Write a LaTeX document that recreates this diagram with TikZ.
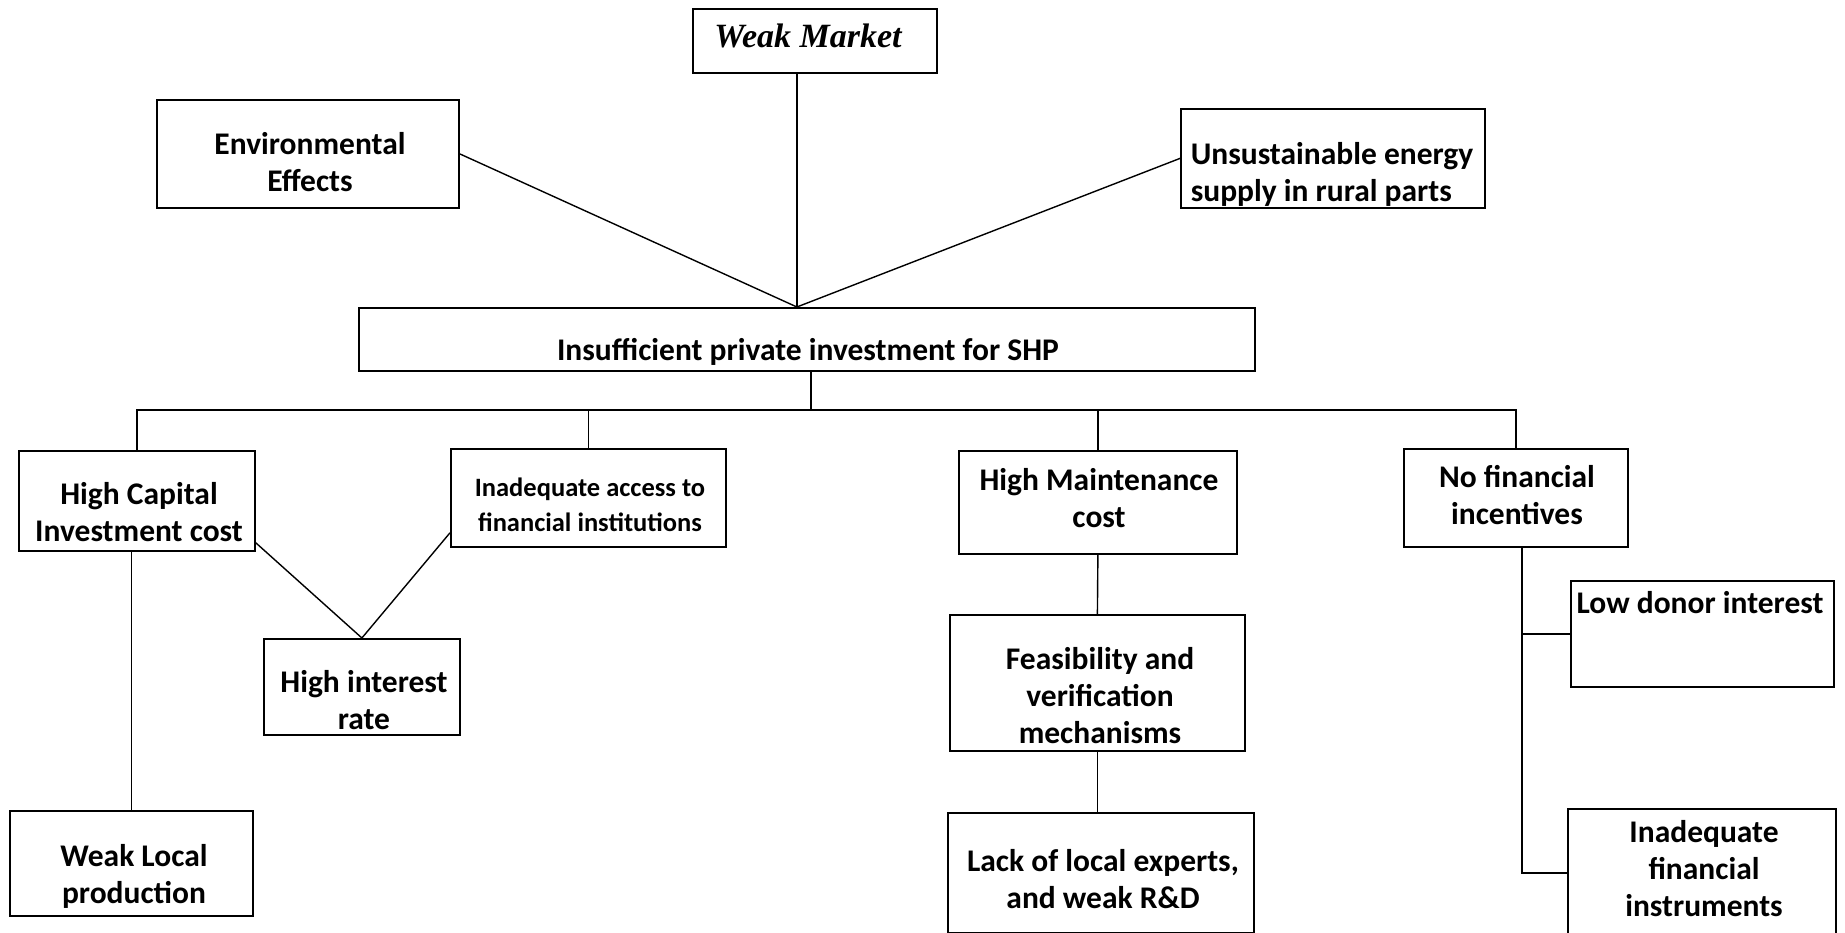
\documentclass[tikz,border=0pt]{standalone}
\usepackage{fontspec}
\setmainfont{Carlito}
\newfontfamily\headserif{Liberation Serif}
\begin{document}
\begin{tikzpicture}[x=1pt,y=-1pt,
  bx/.style 2 args={draw, line width=1.8pt, inner sep=0pt, anchor=north west,
    minimum width=#1pt, minimum height=#2pt},
  tx/.style={font=\bfseries\fontsize{31.5}{37}\selectfont, align=center, inner sep=0pt},
  txs/.style={font=\bfseries\fontsize{26.5}{35}\selectfont, align=center, inner sep=0pt},
  ln/.style={line width=1.4pt}]
\useasboundingbox (0,0) rectangle (1845,933);

% boxes
\node[bx={244}{64}]  (wm)  at (692,8)    {};
\node[bx={302}{108}] (env) at (156,99)   {};
\node[bx={304}{99}]  (un)  at (1180,108) {};
\node[bx={896}{63}]  (ins) at (358,307)  {};
\node[bx={236}{100}] (hc)  at (18,450)   {};
\node[bx={275}{98}]  (ia)  at (450,448)  {};
\node[bx={196}{96}]  (hi)  at (263,638)  {};
\node[bx={243}{105}] (wl)  at (9,810)    {};
\node[bx={278}{103}] (hm)  at (958,450)  {};
\node[bx={295}{136}] (fe)  at (949,614)  {};
\node[bx={306}{120}] (lk)  at (947,812)  {};
\node[bx={224}{98}]  (nf)  at (1403,448) {};
\node[bx={263}{106}] (ld)  at (1570,580) {};
\node[bx={268}{128}] (iff) at (1567,808) {};

% labels
\node[inner sep=0pt, anchor=base, font=\headserif\bfseries\itshape\fontsize{34}{40}\selectfont] (wm-t) at (808,48) {Weak Market};
\node[tx] (env-t) at (310,162) {Environmental\\Effects};
\node[tx, align=left] (un-t) at (1332,174) {Unsustainable energy\\supply in rural parts};
\node[tx, anchor=base] (ins-t) at (808,360) {Insufficient private investment for SHP};
\node[tx] (hc-t) at (139,512) {High Capital\\Investment cost};
\node[txs] (ia-t) at (590,505) {Inadequate access to\\financial institutions};
\node[tx] (hi-t) at (364,700) {High interest\\rate};
\node[tx] (wl-t) at (134,876) {Weak Local\\production};
\node[tx] (hm-t) at (1099,498) {High Maintenance\\cost};
\node[tx] (fe-t) at (1100,696) {Feasibility and\\verification\\mechanisms};
\node[tx] (lk-t) at (1103,879) {Lack of local experts,\\and weak R\&D};
\node[tx] (nf-t) at (1517,495) {No financial\\incentives};
\node[tx, anchor=base] (ld-t) at (1700,613) {Low donor interest};
\node[tx] (iff-t) at (1704,869) {Inadequate\\financial\\instruments};

% upper causes meeting on the central box
\coordinate (apex) at ([xshift=-10pt]ins.north);
\draw[ln] (apex |- wm.south) -- (apex);
\draw[ln] (env.east) -- (apex);
\draw[ln] (un.west) -- (apex);

% bus to the four main branches
\coordinate (bus) at (0,410);
\coordinate (insb) at ([xshift=4pt]ins.south);
\draw[ln] (insb) -- (insb |- bus);
\draw[ln] (hc.north) -- (hc.north |- bus) -- (nf.north |- bus) -- (nf.north);
\draw[ln] (ia.north) -- (ia.north |- bus);
\draw[ln] (hm.north) -- (hm.north |- bus);

% left branch
\draw[ln] ([yshift=9pt]hc.south east) -- (hi.north);
\draw[ln] ([yshift=15pt]ia.south west) -- (hi.north);
\draw[ln] (wl.north |- hc.south) -- (wl.north);

% maintenance branch
\draw[ln] (hm.south) -- (fe.north);
\draw[ln] (fe.south) -- (fe.south |- lk.north);

% incentives branch
\coordinate (nfb) at ([xshift=6pt]nf.south);
\draw[ln] (nfb) -- (nfb |- iff.west) -- (iff.west);
\draw[ln] (nfb |- ld.west) -- (ld.west);
\end{tikzpicture}
\end{document}
